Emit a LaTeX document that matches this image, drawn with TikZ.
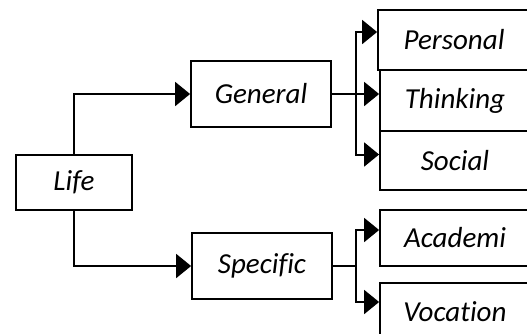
\documentclass[tikz,border=0pt]{standalone}
\usepackage{fontspec}
\setmainfont{Carlito}[Ligatures=CommonOff]
\usetikzlibrary{arrows.meta}
\begin{document}
\begin{tikzpicture}[x=1pt,y=-1pt,
  box/.style={draw=black,line width=1.8pt,inner sep=0pt,font=\itshape\fontsize{29}{34}\selectfont},
  conn/.style={line width=2pt},
  arr/.style={conn,-{Triangle[length=15pt,width=24pt]}}]
\clip (0,0) rectangle (527,333);
\fill[white] (0,0) rectangle (527,333);
\node[box,minimum width=116pt,minimum height=55pt] (life) at (74,182.5) {Life};
\node[box,minimum width=140pt,minimum height=66pt] (general) at (261,94) {General};
\node[box,minimum width=140pt,minimum height=66pt] (specific) at (262,266) {Specific};
\node[box,minimum width=152pt,minimum height=60pt] (personal) at (454,40) {Personal};
\node[box,minimum width=150pt,minimum height=61pt] (thinking) at (455,100.5) {Thinking};
\node[box,minimum width=150pt,minimum height=59pt] (social) at (455,160.5) {Social};
\node[box,minimum width=150pt,minimum height=56pt] (academi) at (455,238) {Academi};
\node[box,minimum width=150pt,minimum height=58pt] (vocation) at (455,312) {Vocation};
\coordinate (gb) at (356,94);
\coordinate (sb) at (356,266);
\draw[arr] (life.north) |- (general.west);
\draw[arr] (life.south) |- (specific.west);
\draw[arr] (general.east) -- (general.east -| thinking.west);
\draw[arr] (gb) |- ([yshift=8pt]personal.west);
\draw[arr] (gb) |- ([yshift=6pt]social.west);
\draw[conn] (specific.east) -- (sb);
\draw[arr] (sb) |- ([yshift=8pt]academi.west);
\draw[arr] (sb) |- ([yshift=10pt]vocation.west);
\end{tikzpicture}
\end{document}
